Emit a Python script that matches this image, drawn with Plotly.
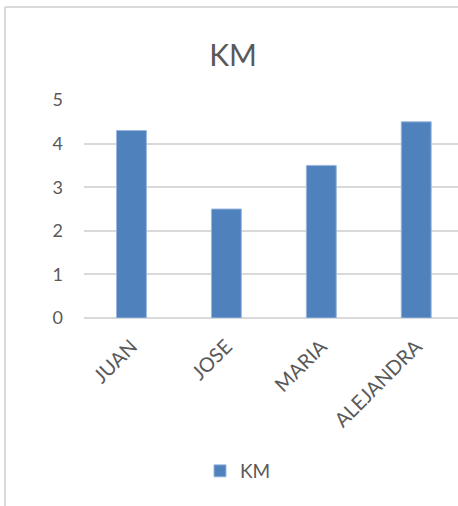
import plotly.graph_objects as go

categories = ["JUAN", "JOSE", "MARIA", "ALEJANDRA"]
km_values = [4.3, 2.5, 3.5, 4.5]
y_ticks = [0, 1, 2, 3, 4, 5]

FONT = "Lato, Liberation Sans, sans-serif"
GRAY = "#595959"

fig = go.Figure()
fig.add_trace(go.Bar(
    x=categories, y=km_values, name="KM",
    marker=dict(color="#4F81BD", line=dict(color="#9ab8df", width=1)),
))

W, H = 458, 506
L, R, T, B = 84, 0, 100, 188
pw, ph = W - L - R, H - T - B

def px_x(x):
    return (x - L) / pw

def px_y(y):
    return (H - B - y) / ph

fig.update_layout(
    width=W, height=H,
    margin=dict(l=L, r=R, t=T, b=B, autoexpand=False),
    paper_bgcolor="white", plot_bgcolor="white",
    font=dict(family=FONT, color=GRAY),
    title=dict(text="KM", x=233 / W, xanchor="center", y=1 - 55 / H, yanchor="middle",
               font=dict(size=30, color=GRAY, family=FONT)),
    bargap=0.685,
    showlegend=True,
    legend=dict(orientation="h", x=px_x(238), xanchor="center", y=px_y(471), yanchor="middle",
                font=dict(size=19, color=GRAY), itemwidth=30),
    xaxis=dict(range=[-0.5, 3.44], tickangle=-45, tickfont=dict(size=20, color=GRAY),
               showgrid=False, showline=False, ticks="", ticklabelstandoff=12),
    yaxis=dict(range=[0, 5], tickvals=y_ticks, tickfont=dict(size=18, color=GRAY),
               showgrid=True, gridcolor="#d9d9d9", gridwidth=1.5,
               zeroline=True, zerolinecolor="#d9d9d9", zerolinewidth=1.5,
               showline=False, ticks="", ticklabelstandoff=20),
    shapes=[
        dict(type="line", xref="paper", yref="paper", x0=px_x(5), x1=px_x(5), y0=px_y(7), y1=px_y(H + 5),
             line=dict(color="#d9d9d9", width=2)),
        dict(type="line", xref="paper", yref="paper", x0=px_x(5), x1=px_x(W + 5), y0=px_y(7), y1=px_y(7),
             line=dict(color="#d9d9d9", width=2)),
    ],
)

fig.write_html("out.html")
